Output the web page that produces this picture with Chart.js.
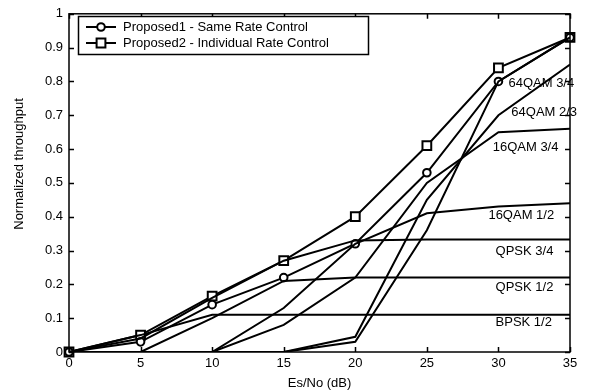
<!DOCTYPE html>
<html>
<head>
<meta charset="utf-8">
<script src="https://cdn.jsdelivr.net/npm/chart.js@4.4.1/dist/chart.umd.min.js"></script>
<style>
  html, body { margin: 0; padding: 0; background: #fff; }
  #wrap { width: 594px; height: 392px; }
</style>
</head>
<body>
<div id="wrap"><canvas id="throughputChart" width="594" height="392"></canvas></div>
<script>
// Normalized throughput vs Es/No for fixed modes and the two proposed schemes
const snrDb = [0, 5, 10, 15, 20, 25, 30, 35];
const xTicks = [0, 5, 10, 15, 20, 25, 30, 35];
const yTicks = [0, 0.1, 0.2, 0.3, 0.4, 0.5, 0.6, 0.7, 0.8, 0.9, 1];

const proposedSame       = [0, 0.03, 0.14, 0.22, 0.32, 0.53, 0.80, 0.93];
const proposedIndividual = [0, 0.05, 0.165, 0.27, 0.40, 0.61, 0.84, 0.93];

const bpsk12   = [0, 0.05, 0.11, 0.11, 0.11, 0.11, 0.11, 0.11];
const qpsk12   = [0, 0, 0.10, 0.21, 0.22, 0.22, 0.22, 0.22];
const qpsk34   = [0, 0.04, 0.16, 0.27, 0.33, 0.333, 0.333, 0.333];
const qam16_12 = [0, 0, 0, 0.13, 0.32, 0.41, 0.43, 0.44];
const qam16_34 = [0, 0, 0, 0.08, 0.22, 0.50, 0.65, 0.66];
const qam64_23 = [0, 0, 0, 0, 0.045, 0.45, 0.70, 0.85];
const qam64_34 = [0, 0, 0, 0, 0.03, 0.36, 0.80, 0.93];

const modeNames  = ['BPSK 1/2', 'QPSK 1/2', 'QPSK 3/4', '16QAM 1/2', '16QAM 3/4', '64QAM 2/3', '64QAM 3/4'];
const modeSeries = [bpsk12, qpsk12, qpsk34, qam16_12, qam16_34, qam64_23, qam64_34];
// left edge (dB) and vertical centre of each mode name
const modeLabelAt = [[29.8, 0.088], [29.8, 0.19], [29.8, 0.298], [29.3, 0.405], [29.6, 0.605], [30.9, 0.708], [30.7, 0.795]];

const legendNames = ['Proposed1 - Same Rate Control', 'Proposed2 - Individual Rate Control'];

const FONT = 'Liberation Sans, Arial, sans-serif';

function toPoints(values) {
    return snrDb.map((x, i) => ({ x: x, y: values[i] }));
}

const datasets = modeSeries.map((values, i) => ({
    label: modeNames[i],
    data: toPoints(values),
    borderColor: '#000',
    borderWidth: 2,
    pointRadius: 0,
    tension: 0,
    fill: false
}));

datasets.push({
    label: legendNames[0],
    data: toPoints(proposedSame),
    borderColor: '#000',
    borderWidth: 2,
    pointStyle: 'circle',
    pointRadius: 3.8,
    pointBorderWidth: 2,
    pointBackgroundColor: '#fff',
    pointBorderColor: '#000',
    tension: 0,
    clip: false
});
datasets.push({
    label: legendNames[1],
    data: toPoints(proposedIndividual),
    borderColor: '#000',
    borderWidth: 2,
    pointStyle: 'rect',
    pointRadius: 6.2,
    pointBorderWidth: 2,
    pointBackgroundColor: '#fff',
    pointBorderColor: '#000',
    tension: 0,
    clip: false
});

// Box frame with inward tick marks on all four sides
const framePlugin = {
    id: 'frame',
    afterDraw(chart) {
        const { ctx, chartArea: a, scales } = chart;
        const tl = 5;
        ctx.save();
        ctx.strokeStyle = '#000';
        ctx.lineWidth = 1.5;
        ctx.strokeRect(a.left, a.top, a.right - a.left, a.bottom - a.top);
        ctx.beginPath();
        xTicks.forEach(v => {
            const px = Math.round(scales.x.getPixelForValue(v)) + 0.5;
            ctx.moveTo(px, a.bottom); ctx.lineTo(px, a.bottom - tl);
            ctx.moveTo(px, a.top); ctx.lineTo(px, a.top + tl);
        });
        yTicks.forEach(v => {
            const py = Math.round(scales.y.getPixelForValue(v)) + 0.5;
            ctx.moveTo(a.left, py); ctx.lineTo(a.left + tl, py);
            ctx.moveTo(a.right, py); ctx.lineTo(a.right - tl, py);
        });
        ctx.stroke();

        // axis titles
        ctx.fillStyle = '#000';
        ctx.font = '13px ' + FONT;
        ctx.textAlign = 'center';
        ctx.textBaseline = 'middle';
        ctx.fillText('Es/No (dB)', (a.left + a.right) / 2, 383);
        ctx.translate(19, 164);
        ctx.rotate(-Math.PI / 2);
        ctx.fillText('Normalized throughput', 0, 0);
        ctx.restore();
    }
};

// Mode names written next to their curves
const modeLabelPlugin = {
    id: 'modeLabels',
    afterDatasetsDraw(chart) {
        const { ctx, scales } = chart;
        ctx.save();
        ctx.fillStyle = '#000';
        ctx.font = '13px ' + FONT;
        ctx.textAlign = 'left';
        ctx.textBaseline = 'middle';
        modeNames.forEach((name, i) => {
            const [x, y] = modeLabelAt[i];
            ctx.fillText(name, scales.x.getPixelForValue(x), scales.y.getPixelForValue(y));
        });
        ctx.restore();
    }
};

// Boxed legend in the upper left of the plot
const legendBoxPlugin = {
    id: 'legendBox',
    afterDraw(chart) {
        const { ctx } = chart;
        const box = { x: 78.5, y: 16.5, w: 290, h: 38 };
        ctx.save();
        ctx.fillStyle = '#fff';
        ctx.fillRect(box.x, box.y, box.w, box.h);
        ctx.strokeStyle = '#000';
        ctx.lineWidth = 1.5;
        ctx.strokeRect(box.x, box.y, box.w, box.h);

        const rows = [27, 43];
        ctx.font = '13px ' + FONT;
        ctx.textBaseline = 'middle';
        rows.forEach((y, i) => {
            ctx.lineWidth = 2;
            ctx.beginPath();
            ctx.moveTo(86, y); ctx.lineTo(116, y);
            ctx.stroke();
            ctx.fillStyle = '#fff';
            ctx.beginPath();
            if (i === 0) {
                ctx.arc(101, y, 3.8, 0, Math.PI * 2);
            } else {
                ctx.rect(101 - 4.4, y - 4.4, 8.8, 8.8);
            }
            ctx.fill();
            ctx.stroke();
            ctx.fillStyle = '#000';
            ctx.fillText(legendNames[i], 123, y);
        });
        ctx.restore();
    }
};

const tickFont = { family: FONT, size: 13 };

new Chart(document.getElementById('throughputChart'), {
    type: 'line',
    data: { datasets: datasets },
    options: {
        responsive: false,
        devicePixelRatio: 1,
        animation: false,
        layout: { padding: { top: 10, right: 24, left: 0, bottom: 0 } },
        plugins: {
            legend: { display: false },
            tooltip: { enabled: false }
        },
        scales: {
            x: {
                type: 'linear',
                min: 0,
                max: 35,
                afterBuildTicks: s => { s.ticks = xTicks.map(v => ({ value: v })); },
                afterFit: s => { s.height = 40; },
                grid: { display: false, drawTicks: false },
                border: { display: false },
                ticks: { color: '#000', font: tickFont, padding: 4, maxRotation: 0, autoSkip: false }
            },
            y: {
                type: 'linear',
                min: 0,
                max: 1,
                afterBuildTicks: s => { s.ticks = yTicks.map(v => ({ value: v })); },
                afterFit: s => { s.width = 69; },
                grid: { display: false, drawTicks: false },
                border: { display: false },
                ticks: {
                    color: '#000',
                    font: tickFont,
                    padding: 6,
                    autoSkip: false,
                    callback: v => String(+v.toFixed(1))
                }
            }
        }
    },
    plugins: [modeLabelPlugin, framePlugin, legendBoxPlugin]
});
</script>
</body>
</html>
